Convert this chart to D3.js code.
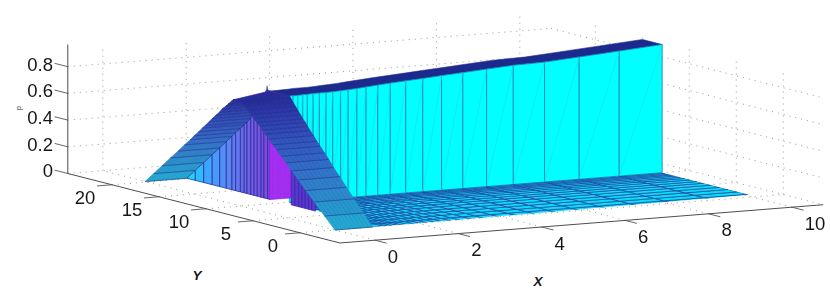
<!DOCTYPE html>
<html>
<head>
<meta charset="utf-8">
<script src="https://cdn.jsdelivr.net/npm/d3@7"></script>
<style>
  html, body { margin: 0; padding: 0; background: #fff; }
  svg { display: block; }
  text { font-family: "Liberation Sans", Arial, sans-serif; fill: #161616; }
</style>
</head>
<body>
<div id="viz"></div>
<script>
const WIDTH = 830;
const HEIGHT = 295;

// axes
const xTicks = [0, 2, 4, 6, 8, 10];
const yTicks = [0, 5, 10, 15, 20];
const zTicks = [0, 0.2, 0.4, 0.6, 0.8];
const zTickLabels = ['0', '0.2', '0.4', '0.6', '0.8'];
const xLim = [-0.84, 10.75];
const yLim = [-4.25, 24.7];
const zAxisTop = 0.966;
const zGridTop = 0.94;

// wall and top band, read along X at Y = 10
const wallX = [1.16, 1.25, 1.36, 1.48, 1.59, 1.73, 1.88, 2.04, 2.2, 2.39, 2.57, 2.78, 3.0, 3.28, 3.58, 3.95, 4.36, 4.81, 5.32, 5.89, 6.53, 7.28, 8.11, 9.07, 10.1];
const wallZ = [0.795, 0.795, 0.795, 0.797, 0.797, 0.8, 0.8, 0.8, 0.802, 0.805, 0.808, 0.812, 0.818, 0.825, 0.832, 0.84, 0.848, 0.858, 0.868, 0.88, 0.893, 0.898, 0.916, 0.937, 0.96];
const wallY = 10;
const bandBackY = 12.1;

// floor mesh
const floorRows = [0, 1, 2, 3, 3.9, 4.8, 5.6, 6.3, 7, 7.6, 8.1, 8.6, 9, 9.35, 9.7, 10];
const floorX = [0.9, 1.16, 1.25, 1.36, 1.48, 1.59, 1.73, 1.88, 2.04, 2.2, 2.39, 2.57, 2.78, 3.0, 3.28, 3.58, 3.95, 4.36, 4.81, 5.32, 5.89, 6.53, 7.28, 8.11, 9.07, 10.1];
const floorEdge = [[0.9, 0], [10.1, 0.75], [10.1, 10], [1.16, 10]];

// back ramp and the purple side under it
const backY = [20.2, 19.3, 18.4, 17.5, 16.7, 16, 15.4, 15, 14.5, 14.1, 13.8, 13.4, 13.05, 12.7, 12.3, 12, 11.6, 11.35, 10.85];
const backZ = [0, 0.075, 0.15, 0.225, 0.29, 0.35, 0.4, 0.435, 0.475, 0.51, 0.535, 0.57, 0.6, 0.63, 0.66, 0.69, 0.72, 0.74, 0.78];
const rampCols = [0, 0.1, 0.2, 0.3, 0.4, 0.5, 0.6, 0.7, 0.8, 0.9, 1];

// slot faces
const slotX = [0.98, 1.07, 1.15, 1.24, 1.32, 1.41, 1.5];
const slotY = 11.3;
const slotZ = 0.72;
const sideY = [9.1, 8.7, 8.3, 7.95, 7.6, 7.25, 6.9, 6.5];
const sideZ = [0.7, 0.65, 0.6, 0.56, 0.52, 0.48, 0.42, 0.3];

// front ramp, rung by rung
const frontY = [0, 1.1, 2.2, 3.1, 3.9, 4.6, 5.2, 5.7, 6.2, 6.6, 7, 7.4, 7.7, 8, 8.3, 8.6, 8.9, 9.2, 9.5, 9.75, 10];
const frontZ = [0, 0.085, 0.17, 0.24, 0.305, 0.36, 0.41, 0.45, 0.49, 0.52, 0.555, 0.585, 0.61, 0.635, 0.655, 0.68, 0.705, 0.73, 0.755, 0.775, 0.795];
const frontRight = [0.9, 0.93, 0.95, 0.97, 0.99, 1, 1.02, 1.03, 1.04, 1.05, 1.06, 1.07, 1.08, 1.09, 1.1, 1.11, 1.12, 1.13, 1.14, 1.15, 1.16];

// centre top and the spike
const topPatch = [[0, 10, 0.78], [0, 10.85, 0.78], [1.16, 12.1, 0.795], [1.16, 10, 0.795]];
const spike = [[1.05, 12.1, 0.79], [1.085, 12.1, 0.805], [1.1, 12.1, 0.835], [1.115, 12.1, 0.805], [1.16, 12.1, 0.795]];

// projection from data space to the page, one scale per screen direction
const hX = d3.scaleLinear().domain([0, 10]).range([0, 417]);
const vX = d3.scaleLinear().domain([0, 10]).range([0, -33]);
const hY = d3.scaleLinear().domain([0, 20]).range([0, -188]);
const vY = d3.scaleLinear().domain([0, 20]).range([0, -48]);
const vZ = d3.scaleLinear().domain([0, 1]).range([0, -133.5]);
const ORIGIN = [335, 230];

const project = ([x, y, z = 0]) => [
  ORIGIN[0] + hX(x) + hY(y),
  ORIGIN[1] + vX(x) + vY(y) + vZ(z)
];

const line = d3.line().x(d => project(d)[0]).y(d => project(d)[1]);
const poly = pts => `${line(pts)}Z`;

const rampColor = d3.scaleLinear()
  .domain([0, 0.2, 0.4, 0.6, 0.8])
  .range(['#22a6d2', '#2f84cc', '#3366c8', '#3248b8', '#26289a']);
const sideColor = d3.scaleLinear()
  .domain([20.2, 18.4, 16, 13.8, 11.35])
  .range(['#1fd4ff', '#3ca4ff', '#5a86f4', '#6d62ea', '#7f42dc']);

const svg = d3.select('#viz').append('svg')
  .attr('width', WIDTH)
  .attr('height', HEIGHT);

const defs = svg.append('defs');
defs.append('filter').attr('id', 'soft')
  .append('feGaussianBlur').attr('stdDeviation', 0.4);
defs.append('filter').attr('id', 'soft-text')
  .append('feGaussianBlur').attr('stdDeviation', 0.25);
defs.append('clipPath').attr('id', 'floor-clip')
  .append('path').attr('d', poly(floorEdge));

// dotted box grid
const grid = svg.append('g')
  .attr('fill', 'none')
  .attr('stroke', '#7c7c7c')
  .attr('stroke-width', 0.8)
  .attr('stroke-dasharray', '1 5');

function gridLine(pts) {
  grid.append('path').attr('d', line(pts));
}

xTicks.forEach((x) => {
  gridLine([[x, yLim[0]], [x, yLim[1]]]);
  gridLine([[x, yLim[1], 0], [x, yLim[1], zGridTop]]);
});
yTicks.forEach((y) => {
  gridLine([[xLim[0], y], [xLim[1], y]]);
  gridLine([[xLim[1], y, 0], [xLim[1], y, zGridTop]]);
});
zTicks.forEach((z) => {
  gridLine([[xLim[0], yLim[1], z], [xLim[1], yLim[1], z]]);
  gridLine([[xLim[1], yLim[1], z], [xLim[1], yLim[0], z]]);
});

// axis lines
const axes = svg.append('g')
  .attr('fill', 'none')
  .attr('stroke', '#3a3a3a')
  .attr('stroke-width', 0.9);
axes.append('path').attr('d', line([[xLim[0], yLim[1], zAxisTop], [xLim[0], yLim[1], 0], [xLim[0], yLim[0], 0], [xLim[1], yLim[0], 0]]));

const tickData = [
  ...xTicks.map(x => [[x, yLim[0]], [x, yLim[0] - 1.25]]),
  ...yTicks.map(y => [[xLim[0], y], [xLim[0] - 0.36, y]]),
  ...zTicks.map(z => [[xLim[0], yLim[1], z], [xLim[0], yLim[1] + 1.4, z]])
];
axes.selectAll('path.tick')
  .data(tickData)
  .enter().append('path')
  .attr('class', 'tick')
  .attr('stroke', '#555')
  .attr('d', line);

// surface, back to front
const surface = svg.append('g').attr('filter', 'url(#soft)');

function drawCells(parent, cells, fill, stroke, width) {
  parent.selectAll(null)
    .data(cells)
    .enter().append('path')
    .attr('d', poly)
    .attr('fill', fill)
    .attr('stroke', stroke)
    .attr('stroke-width', width)
    .attr('stroke-linejoin', 'round');
}

// top band
drawCells(surface,
  [[...wallX.map((x, i) => [x, wallY, wallZ[i]]), ...wallX.map((x, i) => [x, bandBackY, wallZ[i]]).reverse()]],
  '#1f2a8e', '#1f2a8e', 0.6);

// wall
const wallCells = d3.pairs(d3.range(wallX.length)).map(([a, b]) => [
  [wallX[a], wallY, 0], [wallX[b], wallY, 0], [wallX[b], wallY, wallZ[b]], [wallX[a], wallY, wallZ[a]]
]);
drawCells(surface, wallCells, '#00ffff', '#1c7fb0', 0.85);
surface.selectAll(null)
  .data(wallCells)
  .enter().append('path')
  .attr('d', d => line([d[0], d[2]]))
  .attr('stroke', '#14dcee')
  .attr('stroke-width', 0.6)
  .attr('fill', 'none');

// floor mesh
const floorG = surface.append('g').attr('clip-path', 'url(#floor-clip)');
const floorCells = [];
d3.pairs(floorRows).forEach(([y0, y1]) => {
  d3.pairs(floorX).forEach(([x0, x1]) => {
    floorCells.push([[x0, y0], [x1, y0], [x1, y1], [x0, y1]]);
  });
});
drawCells(floorG, floorCells, '#10dcf8', '#1b3f9e', 0.7);

function drawRampCells(cells) {
  surface.selectAll(null)
    .data(cells)
    .enter().append('path')
    .attr('d', d => poly(d.pts))
    .attr('fill', d => rampColor(d.z))
    .attr('stroke', d => d3.color(rampColor(d.z)).darker(0.25))
    .attr('stroke-width', 0.7);
}

// back ramp
const backCells = [];
d3.pairs(d3.range(backY.length)).forEach(([a, b]) => {
  d3.pairs(rampCols).forEach(([c0, c1]) => {
    backCells.push({
      z: backZ[a],
      pts: [[c0, backY[a], backZ[a]], [c1, backY[a], backZ[a]], [c1, backY[b], backZ[b]], [c0, backY[b], backZ[b]]]
    });
  });
});
drawRampCells(backCells);
surface.selectAll(null)
  .data(backY)
  .enter().append('path')
  .attr('d', (y, i) => line([[0, y, backZ[i]], [1, y, backZ[i]]]))
  .attr('stroke', '#223a8e')
  .attr('stroke-width', 0.55);

// side under the back ramp
const sideCells = d3.pairs(d3.range(backY.length - 1)).map(([a, b]) => ({
  y: backY[a],
  pts: [[1, backY[a], 0], [1, backY[b], 0], [1, backY[b], backZ[b]], [1, backY[a], backZ[a]]]
}));
surface.selectAll(null)
  .data(sideCells)
  .enter().append('path')
  .attr('d', d => poly(d.pts))
  .attr('fill', d => sideColor(d.y))
  .attr('stroke', '#2a2a92')
  .attr('stroke-width', 0.75);

// slot faces
drawCells(surface,
  d3.pairs(slotX).map(([a, b]) => [[a, slotY, 0], [b, slotY, 0], [b, slotY, slotZ], [a, slotY, slotZ]]),
  '#a82cf4', '#8a2ee0', 0.6);
drawCells(surface,
  d3.pairs(d3.range(sideY.length)).map(([a, b]) => [[1, sideY[a], 0], [1, sideY[b], 0], [1, sideY[b], sideZ[b]], [1, sideY[a], sideZ[a]]]),
  '#5a34d0', '#38269e', 0.7);

// centre top
drawCells(surface, [topPatch], '#2b2c9a', '#2b2c9a', 0.6);
drawCells(surface, [spike], '#26288e', '#26288e', 0.4);

// front ramp
const frontCells = [];
d3.pairs(d3.range(frontY.length)).forEach(([a, b]) => {
  d3.pairs(rampCols).forEach(([c0, c1]) => {
    frontCells.push({
      z: frontZ[a],
      pts: [
        [c0 * frontRight[a], frontY[a], frontZ[a]],
        [c1 * frontRight[a], frontY[a], frontZ[a]],
        [c1 * frontRight[b], frontY[b], frontZ[b]],
        [c0 * frontRight[b], frontY[b], frontZ[b]]
      ]
    });
  });
});
drawRampCells(frontCells);
surface.selectAll(null)
  .data(frontY)
  .enter().append('path')
  .attr('d', (y, i) => line([[0, y, frontZ[i]], [frontRight[i], y, frontZ[i]]]))
  .attr('stroke', '#223a8e')
  .attr('stroke-width', 0.55);

// tick labels
const labels = svg.append('g')
  .attr('font-size', 18.5)
  .attr('filter', 'url(#soft-text)');

labels.selectAll('text.x')
  .data(xTicks)
  .enter().append('text')
  .attr('class', 'x')
  .attr('text-anchor', 'middle')
  .attr('x', d => project([d, yLim[0]])[0] + (d === 10 ? 23 : 18))
  .attr('y', d => project([d, yLim[0]])[1] + 22.5)
  .text(d => d);

labels.selectAll('text.y')
  .data(yTicks)
  .enter().append('text')
  .attr('class', 'y')
  .attr('text-anchor', 'middle')
  .attr('x', d => project([xLim[0], d])[0] - 27)
  .attr('y', d => project([xLim[0], d])[1] + 19)
  .text(d => d);

labels.selectAll('text.z')
  .data(zTicks)
  .enter().append('text')
  .attr('class', 'z')
  .attr('text-anchor', 'end')
  .attr('x', 53)
  .attr('y', d => project([xLim[0], yLim[1], d])[1] + 4)
  .text((d, i) => zTickLabels[i]);

// axis titles
svg.append('text')
  .attr('x', 538).attr('y', 286)
  .attr('text-anchor', 'middle')
  .attr('font-size', 13.5).attr('font-weight', 'bold').attr('font-style', 'italic')
  .text('X');
svg.append('text')
  .attr('x', 197).attr('y', 280)
  .attr('text-anchor', 'middle')
  .attr('font-size', 13.5).attr('font-weight', 'bold').attr('font-style', 'italic')
  .text('Y');
svg.append('text')
  .attr('transform', 'translate(21,108) rotate(-90)')
  .attr('text-anchor', 'middle')
  .attr('font-size', 7)
  .text('p');
</script>
</body>
</html>
